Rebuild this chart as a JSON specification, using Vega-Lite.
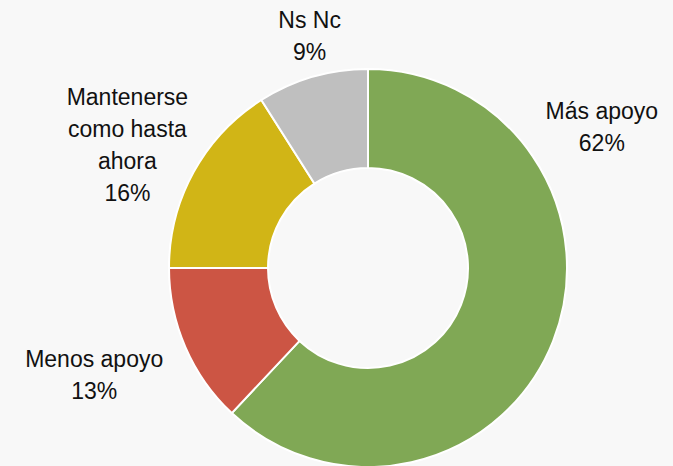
{
  "$schema": "https://vega.github.io/schema/vega-lite/v6.json",
  "autosize": "none",
  "width": 610,
  "height": 396,
  "padding": {"left": 63, "top": 70, "right": 0, "bottom": 0},
  "background": "#F8F8F8",
  "config": {"view": {"stroke": null}},
  "data": {
    "values": [
      {"cat": "Más apoyo", "value": 62, "ord": 1, "label": "Más apoyo\n62%"},
      {"cat": "Menos apoyo", "value": 13, "ord": 2, "label": "Menos apoyo\n13%"},
      {"cat": "Mantenerse como hasta ahora", "value": 16, "ord": 3, "label": "Mantenerse\ncomo hasta\nahora\n16%"},
      {"cat": "Ns Nc", "value": 9, "ord": 4, "label": "Ns Nc\n9%"}
    ]
  },
  "encoding": {
    "theta": {"field": "value", "type": "quantitative", "stack": true},
    "order": {"field": "ord", "type": "quantitative"}
  },
  "layer": [
    {
      "mark": {"type": "arc", "outerRadius": 199, "innerRadius": 100, "stroke": "white", "strokeWidth": 2},
      "encoding": {
        "color": {
          "field": "cat",
          "type": "nominal",
          "scale": {
            "domain": ["Más apoyo", "Menos apoyo", "Mantenerse como hasta ahora", "Ns Nc"],
            "range": ["#80A855", "#CC5544", "#D1B516", "#BFBFBF"]
          },
          "legend": null
        }
      }
    },
    {
      "mark": {"type": "text", "radius": 273, "dx": -20, "dy": -256, "font": "Liberation Sans", "fontSize": 23, "color": "#111111", "lineBreak": "\n", "lineHeight": 32, "align": "center", "baseline": "middle"},
      "encoding": {"text": {"condition": {"test": "datum.cat === 'Más apoyo'", "field": "label"}, "value": ""}}
    },
    {
      "mark": {"type": "text", "radius": 294, "dx": -4, "dy": -25, "font": "Liberation Sans", "fontSize": 23, "color": "#111111", "lineBreak": "\n", "lineHeight": 32, "align": "center", "baseline": "middle"},
      "encoding": {"text": {"condition": {"test": "datum.cat === 'Menos apoyo'", "field": "label"}, "value": ""}}
    },
    {
      "mark": {"type": "text", "radius": 270, "dx": -4, "dy": -40, "font": "Liberation Sans", "fontSize": 23, "color": "#111111", "lineBreak": "\n", "lineHeight": 32, "align": "center", "baseline": "middle"},
      "encoding": {"text": {"condition": {"test": "datum.cat === 'Mantenerse como hasta ahora'", "field": "label"}, "value": ""}}
    },
    {
      "mark": {"type": "text", "radius": 238, "dx": 8, "dy": -18, "font": "Liberation Sans", "fontSize": 23, "color": "#111111", "lineBreak": "\n", "lineHeight": 32, "align": "center", "baseline": "middle"},
      "encoding": {"text": {"condition": {"test": "datum.cat === 'Ns Nc'", "field": "label"}, "value": ""}}
    }
  ]
}
